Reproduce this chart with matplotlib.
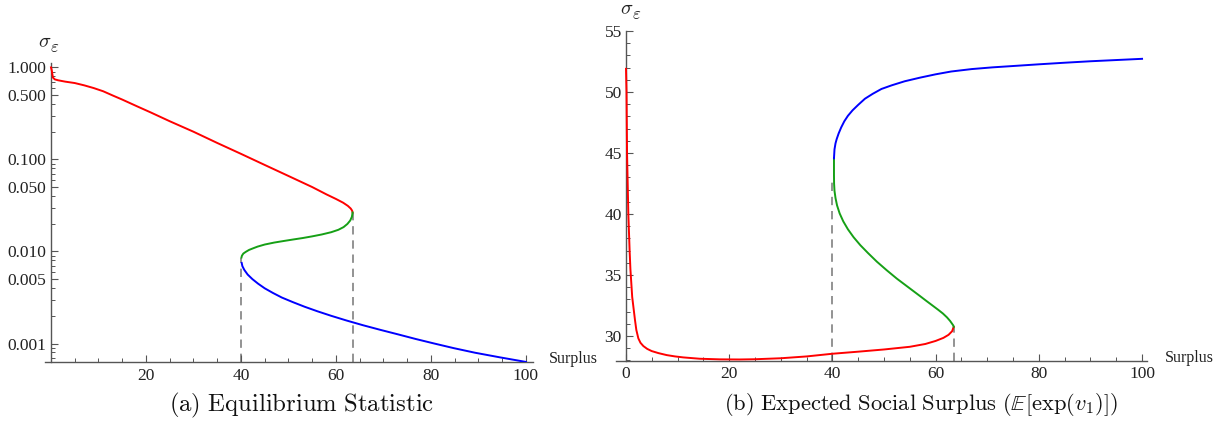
import matplotlib
matplotlib.use('Agg')
import matplotlib.pyplot as plt
from matplotlib.ticker import FixedLocator, FixedFormatter, MultipleLocator, NullFormatter

plt.rcParams['mathtext.fontset'] = 'cm'
plt.rcParams['font.family'] = ['Liberation Serif', 'DejaVu Serif']

# ---------------- data: panel (a) Equilibrium Statistic ----------------
a_red_x = [0, 0.15, 0.4, 0.8, 1.5, 3, 5, 7, 9, 11, 13, 15, 18, 21, 25, 30, 35, 40, 45, 50,
           55, 58, 60, 61.5, 62.5, 63.1, 63.4, 63.5]
a_red_y = [1.0, 0.933, 0.776, 0.741, 0.724, 0.700, 0.676, 0.638, 0.596, 0.550, 0.495, 0.447,
           0.380, 0.324, 0.260, 0.200, 0.151, 0.115, 0.0871, 0.0661, 0.0501, 0.0417, 0.0372,
           0.0339, 0.0313, 0.0293, 0.0278, 0.0265]
a_green_x = [40.1, 40.2, 40.5, 41.0, 41.7, 42.5, 43.5, 45, 47, 49, 51, 53, 55, 57, 59, 60.5,
             61.6, 62.4, 63.0, 63.35, 63.5]
a_green_y = [0.0086, 0.0090, 0.0095, 0.0099, 0.0104, 0.0108, 0.0113, 0.0119, 0.0125, 0.0130,
             0.0135, 0.0140, 0.0146, 0.0153, 0.0162, 0.0172, 0.0184, 0.0199, 0.0217, 0.0238,
             0.0265]
a_blue_x = [40.15, 40.3, 40.7, 41.4, 42.4, 43.6, 45.0, 46.7, 48.6, 50.9, 53.4, 56.1, 59.0,
            62.2, 65.7, 69.3, 73.0, 76.8, 80.7, 84.8, 89.3, 94.5, 100]
a_blue_y = [0.00750, 0.00692, 0.00631, 0.00562, 0.00501, 0.00447, 0.00398, 0.00355, 0.00316,
            0.00282, 0.00251, 0.00224, 0.00200, 0.00178, 0.00158, 0.00141, 0.00126, 0.00112,
            0.00100, 0.000891, 0.000794, 0.000708, 0.000631]
a_fold_x = [40.1, 63.5]
a_fold_top = [0.0086, 0.0265]
a_yticks = [0.001, 0.005, 0.010, 0.050, 0.100, 0.500, 1.000]
a_ylabels = ['0.001', '0.005', '0.010', '0.050', '0.100', '0.500', '1.000']
a_xticks = [20, 40, 60, 80, 100]

# ---------------- data: panel (b) Expected Social Surplus ----------------
b_red_x = [0, 0.1, 0.2, 0.45, 0.7, 0.85, 1.2, 1.74, 2.0, 2.39, 2.8, 3.36, 4.1, 4.97, 6.3,
           7.88, 9.5, 11.1, 14.3, 18.2, 22, 25, 30, 35, 40, 45, 50, 55, 58, 60, 61.5, 62.5,
           63.2, 63.5]
b_red_y = [51.9, 50.0, 45.0, 40.0, 37.0, 35.5, 33.2, 31.31, 30.5, 29.81, 29.45, 29.18, 28.95,
           28.77, 28.6, 28.44, 28.33, 28.25, 28.14, 28.09, 28.08, 28.1, 28.18, 28.33, 28.55,
           28.72, 28.9, 29.12, 29.35, 29.6, 29.85, 30.1, 30.4, 30.76]
b_green_x = [40.3, 40.3, 40.32, 40.4, 40.6, 40.9, 41.4, 42.1, 43.0, 44.1, 45.4, 46.9, 48.6,
             50.5, 52.5, 54.7, 56.9, 58.2, 59.4, 60.5, 61.4, 62.2, 62.8, 63.2, 63.45, 63.5]
b_green_y = [44.57, 43.2, 42.5, 41.9, 41.3, 40.7, 40.05, 39.4, 38.75, 38.1, 37.45, 36.8, 36.1,
             35.4, 34.7, 34.0, 33.3, 32.88, 32.5, 32.15, 31.85, 31.53, 31.24, 31.0, 30.85,
             30.76]
b_blue_x = [40.3, 40.4, 40.6, 40.83, 41.2, 41.7, 42.3, 43.0, 43.9, 45.0, 46.3, 47.8, 49.5,
            51.5, 54, 57, 60, 63, 67, 71, 75, 80, 85, 90, 95, 100]
b_blue_y = [44.57, 45.3, 45.8, 46.15, 46.6, 47.1, 47.6, 48.05, 48.5, 48.95, 49.45, 49.85,
            50.25, 50.55, 50.88, 51.18, 51.45, 51.68, 51.88, 52.02, 52.13, 52.27, 52.4, 52.52,
            52.62, 52.72]
b_fold_x = [40.0, 63.5]
b_fold_top = [43.06, 30.76]
b_xticks = [0, 20, 40, 60, 80, 100]
b_yticks = [30, 35, 40, 45, 50, 55]

RED, GREEN, BLUE = '#ff0000', '#16a016', '#0000ff'
AX = '#555555'
TXT = '#222222'
DASH = '#808080'
LW = 1.4
TICKFS = 12.5

fig = plt.figure(figsize=(12.25, 4.3), dpi=100)
axL = fig.add_axes([45.3 / 1225, (430 - 362) / 430, 487.3 / 1225, 299.5 / 430])
axR = fig.add_axes([616 / 1225, (430 - 360.7) / 430, 530.7 / 1225, 329.7 / 430])


def style(ax, ypad):
    for s in ['top', 'right']:
        ax.spines[s].set_visible(False)
    ax.spines['left'].set_position(('data', 0))
    for s in ['left', 'bottom']:
        ax.spines[s].set_color(AX)
        ax.spines[s].set_linewidth(1.0)
    ax.patch.set_alpha(0)
    ax.tick_params(which='both', direction='in', colors=AX, labelcolor=TXT, labelsize=TICKFS)
    ax.tick_params(which='major', length=5, width=0.8)
    ax.tick_params(which='minor', length=2.8, width=0.7)
    ax.tick_params(axis='x', pad=4.0)
    ax.tick_params(axis='y', pad=ypad)


# ---- panel (a)
axL.set_yscale('log')
axL.set_xlim(-1.2, 101.4)
axL.set_ylim(0.00063, 1.13)
for xv, top in zip(a_fold_x, a_fold_top):
    axL.plot([xv, xv], [0.00063, top], color=DASH, lw=1.2, ls=(0, (5, 3.5)), zorder=1)
axL.plot(a_red_x, a_red_y, color=RED, lw=LW, zorder=3, solid_joinstyle='round')
axL.plot(a_green_x, a_green_y, color=GREEN, lw=LW, zorder=3, solid_joinstyle='round')
axL.plot(a_blue_x, a_blue_y, color=BLUE, lw=LW, zorder=3, solid_joinstyle='round')
style(axL, 3.5)
axL.xaxis.set_major_locator(FixedLocator(a_xticks))
axL.xaxis.set_minor_locator(MultipleLocator(5))
axL.yaxis.set_major_locator(FixedLocator(a_yticks))
axL.yaxis.set_major_formatter(FixedFormatter(a_ylabels))
minors = [m * 10.0 ** e for e in (-4, -3, -2, -1) for m in (2, 3, 4, 6, 7, 8, 9)]
axL.yaxis.set_minor_locator(FixedLocator(minors))
axL.yaxis.set_minor_formatter(NullFormatter())

# ---- panel (b)
axR.set_xlim(-1.94, 100.9)
axR.set_ylim(27.98, 55)
for xv, top in zip(b_fold_x, b_fold_top):
    axR.plot([xv, xv], [27.98, top], color=DASH, lw=1.2, ls=(0, (5, 3.5)), zorder=1)
axR.plot(b_red_x, b_red_y, color=RED, lw=LW, zorder=3, solid_joinstyle='round')
axR.plot(b_green_x, b_green_y, color=GREEN, lw=LW, zorder=3, solid_joinstyle='round')
axR.plot(b_blue_x, b_blue_y, color=BLUE, lw=LW, zorder=3, solid_joinstyle='round')
style(axR, 3.0)
axR.xaxis.set_major_locator(FixedLocator(b_xticks))
axR.xaxis.set_minor_locator(MultipleLocator(5))
axR.yaxis.set_major_locator(FixedLocator(b_yticks))
axR.yaxis.set_minor_locator(MultipleLocator(1))

# ---- axis labels
fig.text(549 / 1225, 1 - 359 / 430, 'Surplus', ha='left', va='center', fontsize=11.5, color=TXT)
fig.text(1165 / 1225, 1 - 358 / 430, 'Surplus', ha='left', va='center', fontsize=11.5, color=TXT)


def sigma_eps(cx, cy):
    fig.text((cx - 5) / 1225, 1 - cy / 430, r'$\sigma$', ha='center', va='center',
             fontsize=14.5, color=TXT)
    fig.text((cx + 5) / 1225, 1 - (cy + 5) / 430, r'$\varepsilon$', ha='center', va='center',
             fontsize=12, color=TXT)


sigma_eps(49.5, 43)
sigma_eps(632, 10)

# ---- captions
fig.text(302 / 1225, 1 - 405 / 430, r'$\mathrm{(a)\ Equilibrium\ Statistic}$',
         ha='center', va='center', fontsize=17.8, color='#111111')
fig.text(921 / 1225, 1 - 405 / 430,
         r'$\mathrm{(b)\ Expected\ Social\ Surplus\ (}\mathbb{E}[\exp(v_1)]\mathrm{)}$',
         ha='center', va='center', fontsize=16.2, color='#111111')

fig.savefig('out.png', dpi=100)
